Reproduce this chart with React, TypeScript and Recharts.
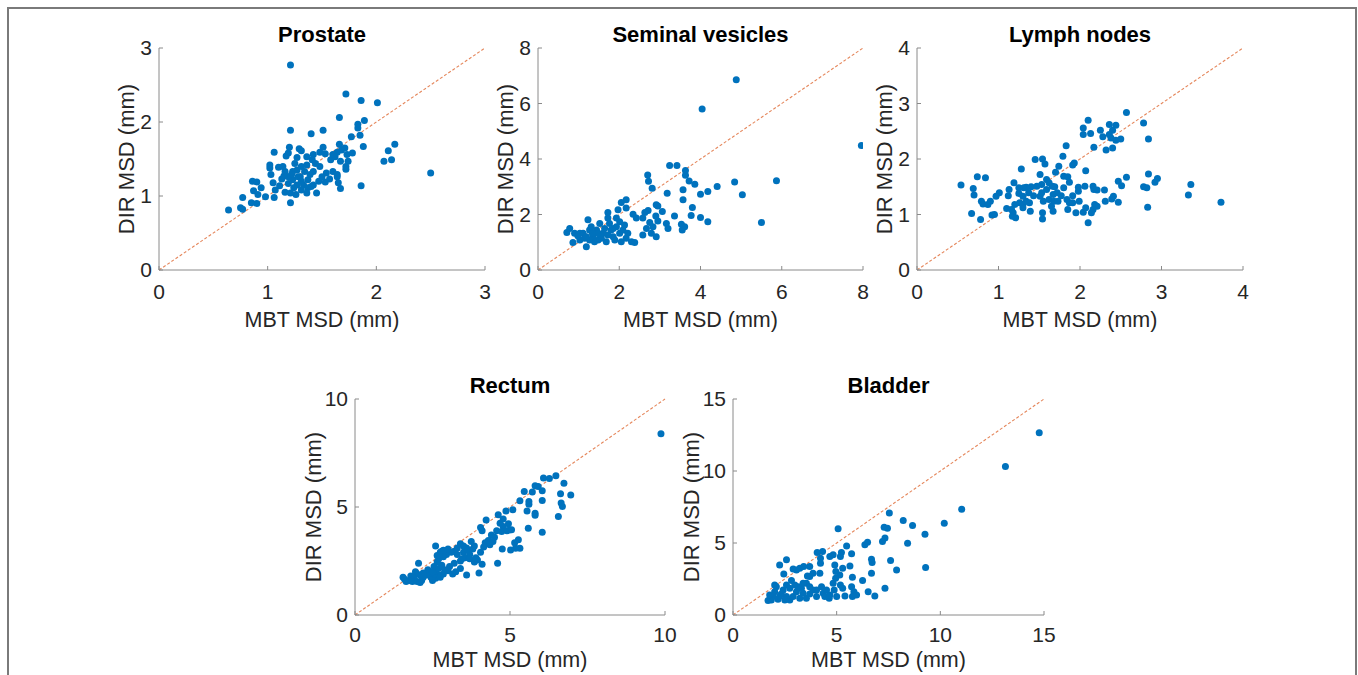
import React from "react";
import {
  ScatterChart,
  Scatter,
  XAxis,
  YAxis,
  ReferenceLine,
} from "recharts";

// [MBT MSD, DIR MSD] per structure
const prostatePoints: [number, number][] = [
  [1.21, 2.77], [1.72, 2.38], [1.86, 2.29], [2.01, 2.26], [1.66, 2.06], [1.21, 1.89],
  [1.51, 1.89], [1.40, 1.84], [1.89, 2.02], [1.83, 1.97], [1.83, 1.92], [1.77, 1.80],
  [1.85, 1.82], [1.88, 1.67], [2.11, 1.61], [2.17, 1.70], [2.07, 1.47], [2.14, 1.49],
  [2.50, 1.31], [1.86, 1.14], [1.06, 1.59], [1.20, 1.66], [1.19, 1.58], [1.29, 1.64],
  [1.31, 1.61], [1.17, 1.54], [1.51, 1.66], [1.42, 1.56], [1.48, 1.59], [1.53, 1.57],
  [1.58, 1.49], [1.64, 1.59], [1.66, 1.70], [1.68, 1.62], [1.71, 1.65], [1.73, 1.56],
  [1.74, 1.47], [1.72, 1.40], [1.72, 1.36], [1.78, 1.58], [1.60, 1.56], [1.02, 1.42],
  [1.02, 1.38], [1.10, 1.39], [1.03, 1.29], [0.86, 1.20], [0.90, 1.19], [0.94, 1.11],
  [0.98, 0.99], [1.06, 0.98], [0.87, 1.07], [0.91, 1.02], [0.85, 0.91], [0.90, 0.90],
  [0.77, 0.98], [0.75, 0.84], [0.77, 0.82], [0.64, 0.81], [1.07, 1.08], [1.05, 1.18],
  [1.13, 1.23], [1.15, 1.27], [1.11, 1.14], [1.16, 1.05], [1.21, 1.04], [1.21, 0.91],
  [1.26, 1.02], [1.23, 1.22], [1.23, 1.33], [1.27, 1.35], [1.30, 1.26], [1.31, 1.40],
  [1.34, 1.33], [1.37, 1.22], [1.33, 1.15], [1.37, 1.11], [1.42, 1.15], [1.47, 1.20],
  [1.45, 1.04], [1.50, 1.26], [1.48, 1.40], [1.44, 1.44], [1.41, 1.49], [1.36, 1.53],
  [1.54, 1.31], [1.57, 1.23], [1.60, 1.33], [1.64, 1.29], [1.64, 1.26], [1.53, 1.19],
  [1.67, 1.10], [1.65, 1.18], [1.67, 1.47], [1.62, 1.53], [1.25, 1.44], [1.27, 1.52],
  [1.28, 1.26], [1.31, 1.20], [1.19, 1.17], [1.16, 1.33], [1.14, 1.40], [1.39, 1.29],
  [1.42, 1.33], [1.36, 1.42], [1.31, 1.08], [1.27, 1.15], [1.24, 1.11], [1.19, 1.26],
  [1.22, 1.29], [1.40, 1.13], [1.36, 1.04],
];

const seminalPoints: [number, number][] = [
  [4.88, 6.86], [4.04, 5.80], [7.96, 4.49], [5.87, 3.22], [3.24, 3.77], [3.42, 3.77],
  [3.63, 3.59], [3.63, 3.41], [2.70, 3.42], [2.72, 3.20], [2.81, 2.95], [3.18, 2.77],
  [3.72, 3.21], [3.86, 3.09], [3.57, 2.89], [3.57, 2.53], [4.00, 2.73], [4.18, 2.83],
  [4.41, 3.01], [4.84, 3.17], [5.03, 2.71], [5.50, 1.71], [3.80, 2.25], [3.77, 1.96],
  [4.00, 1.89], [4.18, 1.74], [3.36, 1.95], [3.06, 2.11], [2.91, 2.35], [2.95, 2.31],
  [2.90, 1.95], [2.95, 1.77], [2.83, 1.56], [2.75, 1.71], [2.71, 2.14], [2.63, 2.07],
  [2.58, 1.87], [2.58, 1.26], [2.67, 1.50], [2.79, 1.32], [2.91, 1.20], [3.16, 1.68],
  [3.20, 1.50], [3.53, 1.65], [3.55, 1.44], [3.61, 1.56], [2.34, 2.01], [2.42, 1.87],
  [2.17, 2.53], [2.17, 2.23], [2.05, 2.43], [1.97, 2.17], [1.93, 1.87], [1.72, 1.87],
  [1.72, 2.07], [1.52, 1.68], [1.23, 1.81], [0.78, 1.50], [0.71, 1.35], [0.90, 1.32],
  [0.86, 0.99], [1.03, 1.08], [1.19, 0.84], [1.11, 1.32], [1.27, 1.44], [1.35, 1.20],
  [1.48, 1.08], [1.60, 1.32], [1.68, 1.02], [1.80, 1.44], [1.85, 1.20], [1.93, 1.56],
  [2.01, 1.32], [2.09, 1.44], [2.17, 1.14], [2.21, 1.32], [2.30, 1.02], [2.38, 0.99],
  [1.44, 1.44], [1.52, 1.26], [1.64, 1.50], [1.76, 1.68], [1.89, 1.08], [2.05, 1.02],
  [1.39, 1.02], [1.15, 1.14], [0.98, 1.23], [1.27, 1.08], [1.56, 1.14], [1.72, 1.26],
  [2.01, 1.74], [2.13, 1.62], [1.85, 1.50], [1.48, 1.32], [1.34, 1.32], [1.03, 1.32],
  [1.19, 1.20], [1.31, 1.56],
];

const lymphPoints: [number, number][] = [
  [2.57, 2.84], [2.10, 2.70], [2.04, 2.56], [2.04, 2.44], [2.13, 2.46], [2.25, 2.52],
  [2.36, 2.62], [2.44, 2.61], [2.40, 2.52], [2.36, 2.44], [2.28, 2.40], [2.38, 2.38],
  [2.44, 2.34], [2.50, 2.36], [2.32, 2.16], [2.40, 2.20], [2.17, 2.21], [2.78, 2.65],
  [2.84, 2.36], [1.83, 2.24], [1.79, 2.05], [1.93, 1.93], [1.91, 1.89], [1.74, 1.87],
  [1.45, 1.99], [1.54, 2.00], [1.57, 1.91], [1.28, 1.82], [2.07, 1.79], [1.51, 1.72],
  [1.59, 1.63], [1.62, 1.57], [1.70, 1.76], [1.80, 1.69], [1.85, 1.68], [1.87, 1.58],
  [1.80, 1.48], [1.66, 1.51], [1.53, 1.54], [1.47, 1.51], [1.40, 1.50], [1.34, 1.49],
  [1.31, 1.48], [1.25, 1.48], [1.19, 1.57], [1.25, 1.38], [1.30, 1.33], [1.37, 1.39],
  [1.43, 1.34], [1.51, 1.33], [1.55, 1.24], [1.62, 1.27], [1.67, 1.36], [1.72, 1.39],
  [1.77, 1.34], [1.84, 1.27], [1.87, 1.21], [1.91, 1.34], [1.98, 1.42], [1.98, 1.49],
  [2.06, 1.51], [2.16, 1.51], [2.17, 1.45], [2.21, 1.44], [2.30, 1.44], [2.31, 1.24],
  [2.39, 1.28], [2.41, 1.33], [2.47, 1.22], [2.47, 1.60], [2.51, 1.52], [2.57, 1.67],
  [2.78, 1.50], [2.82, 1.48], [2.84, 1.73], [2.92, 1.58], [2.95, 1.65], [2.83, 1.13],
  [3.33, 1.35], [3.36, 1.54], [3.73, 1.22], [2.18, 1.18], [2.21, 1.15], [2.16, 1.09],
  [2.14, 1.03], [2.10, 0.85], [2.04, 1.04], [2.07, 1.12], [1.99, 1.24], [1.95, 1.03],
  [1.85, 1.09], [1.91, 1.21], [1.68, 1.24], [1.67, 1.06], [1.65, 1.15], [1.54, 1.03],
  [1.54, 0.92], [1.39, 1.06], [1.38, 1.21], [1.30, 1.18], [1.30, 1.12], [1.26, 1.21],
  [1.20, 1.18], [1.18, 1.03], [1.17, 0.97], [1.21, 0.94], [1.16, 1.09], [1.10, 1.11],
  [1.12, 1.34], [1.13, 1.45], [1.01, 1.39], [0.97, 1.33], [0.95, 1.00], [0.92, 0.99],
  [0.90, 1.24], [0.87, 1.18], [0.81, 1.19], [0.79, 1.24], [0.84, 1.66], [0.74, 1.68],
  [0.78, 0.91], [0.67, 1.02], [0.69, 1.47], [0.70, 1.35], [0.54, 1.53], [1.69, 1.50],
  [1.73, 1.24], [1.59, 1.45], [1.53, 1.39], [1.34, 1.24],
];

const rectumPoints: [number, number][] = [
  [9.87, 8.39], [6.48, 6.45], [6.27, 6.32], [6.08, 6.34], [5.91, 5.95], [5.81, 5.98],
  [5.72, 5.69], [5.46, 5.72], [5.32, 5.29], [6.74, 6.10], [6.96, 5.56], [6.63, 5.61],
  [6.04, 5.75], [6.04, 5.30], [5.61, 5.25], [5.61, 5.13], [5.55, 4.82], [5.81, 4.71],
  [5.81, 4.62], [6.65, 5.18], [6.69, 5.02], [6.56, 4.56], [6.04, 3.83], [5.59, 4.02],
  [5.27, 3.48], [5.32, 3.09], [5.18, 3.09], [5.02, 3.01], [5.09, 4.87], [4.87, 4.82],
  [4.62, 4.64], [4.78, 4.45], [4.78, 4.10], [4.95, 4.22], [4.98, 3.94], [4.68, 4.25],
  [4.57, 3.90], [4.73, 3.86], [4.23, 4.40], [4.05, 4.05], [4.10, 3.90], [4.40, 3.70],
  [4.30, 3.45], [4.20, 3.35], [4.50, 3.60], [4.35, 3.25], [4.75, 3.05], [4.60, 2.40],
  [4.05, 2.90], [3.95, 2.55], [3.85, 2.45], [4.10, 2.35], [4.00, 1.95], [3.60, 1.85],
  [3.70, 2.80], [3.60, 3.10], [3.50, 3.20], [3.40, 3.30], [3.30, 3.10], [3.20, 2.95],
  [3.30, 2.80], [3.50, 2.90], [3.65, 3.00], [3.75, 3.40], [3.80, 3.05], [3.85, 3.20],
  [3.55, 2.65], [3.40, 2.50], [3.20, 2.40], [3.05, 2.25], [3.00, 2.05], [3.25, 2.00],
  [3.40, 2.15], [3.10, 2.90], [2.95, 2.80], [2.85, 2.70], [2.75, 2.90], [2.70, 2.60],
  [2.65, 2.45], [2.60, 3.20], [2.65, 2.75], [2.80, 2.95], [2.85, 3.00], [3.00, 3.05],
  [2.55, 2.25], [2.60, 2.05], [2.70, 2.15], [2.80, 2.30], [2.90, 2.10], [2.85, 1.90],
  [2.70, 1.85], [2.55, 1.85], [2.45, 1.75], [2.40, 1.95], [2.35, 2.10], [2.50, 2.00],
  [2.30, 1.85], [2.20, 1.95], [2.10, 1.85], [2.00, 1.90], [1.95, 2.00], [2.05, 2.40],
  [1.90, 1.70], [1.80, 1.80], [1.75, 1.60], [1.65, 1.55], [1.55, 1.75], [1.60, 1.65],
  [1.85, 1.55], [2.00, 1.55], [2.10, 1.50], [2.15, 1.60], [2.20, 1.75], [2.60, 1.70],
  [2.75, 1.75], [2.50, 1.60], [3.15, 1.90], [3.45, 2.60], [3.70, 2.60], [3.90, 2.65],
  [4.15, 3.15], [4.45, 3.40], [4.90, 3.90], [5.05, 3.95], [5.15, 3.35],
];

const bladderPoints: [number, number][] = [
  [14.77, 12.65], [13.14, 10.32], [11.03, 7.35], [10.19, 6.38], [9.29, 3.29], [9.26, 5.61],
  [8.21, 6.57], [8.66, 6.22], [8.42, 4.99], [7.89, 3.13], [7.54, 7.08], [7.60, 3.78],
  [7.29, 6.10], [7.45, 6.03], [7.33, 5.34], [7.21, 5.10], [7.33, 1.86], [6.84, 1.32],
  [6.68, 3.87], [6.71, 3.64], [6.68, 2.90], [6.52, 1.62], [6.49, 5.06], [6.36, 4.87],
  [6.25, 2.39], [5.48, 4.80], [5.72, 4.25], [5.64, 3.41], [5.76, 2.62], [5.72, 1.97],
  [5.83, 1.62], [5.76, 1.28], [5.96, 1.39], [5.07, 5.99], [5.23, 4.34], [5.18, 4.06],
  [5.29, 3.25], [5.15, 2.78], [5.18, 2.09], [5.29, 1.86], [5.40, 1.32], [4.83, 4.18],
  [4.67, 4.06], [4.91, 3.48], [4.96, 3.02], [4.95, 2.55], [4.83, 2.20], [4.88, 1.74],
  [5.00, 1.28], [4.64, 1.16], [4.32, 4.41], [4.06, 4.34], [4.22, 3.94], [4.22, 3.60],
  [4.19, 2.90], [4.27, 1.97], [4.35, 1.51], [4.43, 1.28], [4.03, 1.28], [3.86, 2.90],
  [3.70, 3.36], [3.59, 2.71], [3.41, 3.36], [3.22, 3.25], [3.06, 3.13], [3.54, 2.20],
  [3.30, 1.86], [2.90, 3.20], [2.82, 2.39], [2.58, 3.83], [2.25, 3.48], [2.45, 2.85],
  [2.58, 2.09], [2.42, 1.74], [2.09, 1.97], [2.01, 1.62], [1.93, 1.28], [1.69, 1.00],
  [1.85, 1.04], [2.17, 1.09], [2.33, 1.46], [2.58, 1.28], [2.74, 1.04], [2.90, 1.28],
  [3.06, 1.62], [3.22, 1.16], [3.38, 1.51], [3.54, 1.16], [3.70, 1.46], [3.86, 1.74],
  [3.14, 1.97], [2.74, 1.86], [2.98, 2.09], [3.38, 2.20], [3.70, 1.97], [4.03, 1.74],
  [4.51, 1.74], [4.67, 1.39], [3.70, 2.67], [2.50, 1.04], [2.25, 1.32], [1.77, 1.39],
  [2.01, 2.09],
];

const FONT = '"Liberation Sans", Arial, Helvetica, sans-serif';
const AXIS_GREY = "#8a8a8a";
const TEXT_GREY = "#262626";
const DOT_BLUE = "#0072BD";
const DIAG_ORANGE = "#E5875C";

interface PanelProps {
  title: string;
  points: [number, number][];
  max: number;
  ticks: number[];
  left: number;
  top: number;
  width: number;
  height: number;
  xLabelBaseline: number;
  yLabelCenter: number;
  xTickGap: number;
}

const Panel = ({
  title,
  points,
  max,
  ticks,
  left,
  top,
  width,
  height,
  xLabelBaseline,
  yLabelCenter,
  xTickGap,
}: PanelProps) => {
  const data = points.map(([x, y]) => ({ x, y }));
  const yAxisW = 70;
  const xAxisH = 70;
  const padTop = 20;
  const padRight = 20;
  return (
    <>
      <div style={{ position: "absolute", left: left - yAxisW, top: top - padTop }}>
        <ScatterChart
          width={width + yAxisW + padRight}
          height={height + padTop + xAxisH}
          margin={{ top: padTop, right: padRight, bottom: 0, left: 0 }}
        >
          <XAxis
            type="number"
            dataKey="x"
            domain={[0, max]}
            ticks={ticks}
            interval={0}
            allowDataOverflow
            height={xAxisH}
            axisLine={{ stroke: AXIS_GREY, strokeWidth: 1 }}
            tickLine={{ stroke: AXIS_GREY }}
            tickSize={-4}
            tickMargin={4 + xTickGap}
            tick={{ fill: TEXT_GREY, fontSize: 21, fontFamily: FONT }}
            label={{
              value: "MBT MSD (mm)",
              position: "insideBottom",
              offset: xAxisH - xLabelBaseline,
              fill: TEXT_GREY,
              fontSize: 21.5,
              fontFamily: FONT,
            }}
          />
          <YAxis
            type="number"
            dataKey="y"
            domain={[0, max]}
            ticks={ticks}
            interval={0}
            allowDataOverflow
            width={yAxisW}
            axisLine={{ stroke: AXIS_GREY, strokeWidth: 1 }}
            tickLine={{ stroke: AXIS_GREY }}
            tickSize={-4}
            tickMargin={11}
            tick={{ fill: TEXT_GREY, fontSize: 21, fontFamily: FONT }}
            label={{
              value: "DIR MSD (mm)",
              angle: -90,
              position: "insideLeft",
              offset: yAxisW - yLabelCenter,
              fill: TEXT_GREY,
              fontSize: 22,
              fontFamily: FONT,
              style: { textAnchor: "middle" },
            }}
          />
          <ReferenceLine
            segment={[
              { x: 0, y: 0 },
              { x: max, y: max },
            ]}
            stroke={DIAG_ORANGE}
            strokeWidth={1.1}
            strokeDasharray="3 2"
            ifOverflow="visible"
          />
          <Scatter
            data={data}
            isAnimationActive={false}
            shape={(p: any) => <circle cx={p.cx} cy={p.cy} r={3.5} fill={DOT_BLUE} />}
          />
        </ScatterChart>
      </div>
      <div
        style={{
          position: "absolute",
          left,
          top: top - 26,
          width,
          textAlign: "center",
          fontFamily: FONT,
          fontWeight: "bold",
          fontSize: 22,
          lineHeight: "26px",
          color: "#000",
        }}
      >
        {title}
      </div>
    </>
  );
};

export default function App() {
  return (
    <div
      style={{
        position: "absolute",
        left: 0,
        top: 0,
        width: 1358,
        height: 675,
        overflow: "hidden",
        background: "#fff",
      }}
    >
      <div
        style={{
          position: "absolute",
          left: 7,
          top: 7,
          width: 1346,
          height: 680,
          border: "2px solid #7a7a7a",
          borderBottom: "none",
        }}
      />
      <Panel title="Prostate" points={prostatePoints} max={3} ticks={[0, 1, 2, 3]}
        left={159} top={48} width={326} height={222} xLabelBaseline={57} yLabelCenter={33} xTickGap={14} />
      <Panel title="Seminal vesicles" points={seminalPoints} max={8} ticks={[0, 2, 4, 6, 8]}
        left={538} top={48} width={325} height={222} xLabelBaseline={57} yLabelCenter={33} xTickGap={14} />
      <Panel title="Lymph nodes" points={lymphPoints} max={4} ticks={[0, 1, 2, 3, 4]}
        left={917} top={48} width={326} height={222} xLabelBaseline={57} yLabelCenter={33} xTickGap={14} />
      <Panel title="Rectum" points={rectumPoints} max={10} ticks={[0, 5, 10]}
        left={355} top={399} width={310} height={216} xLabelBaseline={52} yLabelCenter={42} xTickGap={12} />
      <Panel title="Bladder" points={bladderPoints} max={15} ticks={[0, 5, 10, 15]}
        left={733} top={399} width={311} height={216} xLabelBaseline={52} yLabelCenter={42} xTickGap={12} />
    </div>
  );
}
